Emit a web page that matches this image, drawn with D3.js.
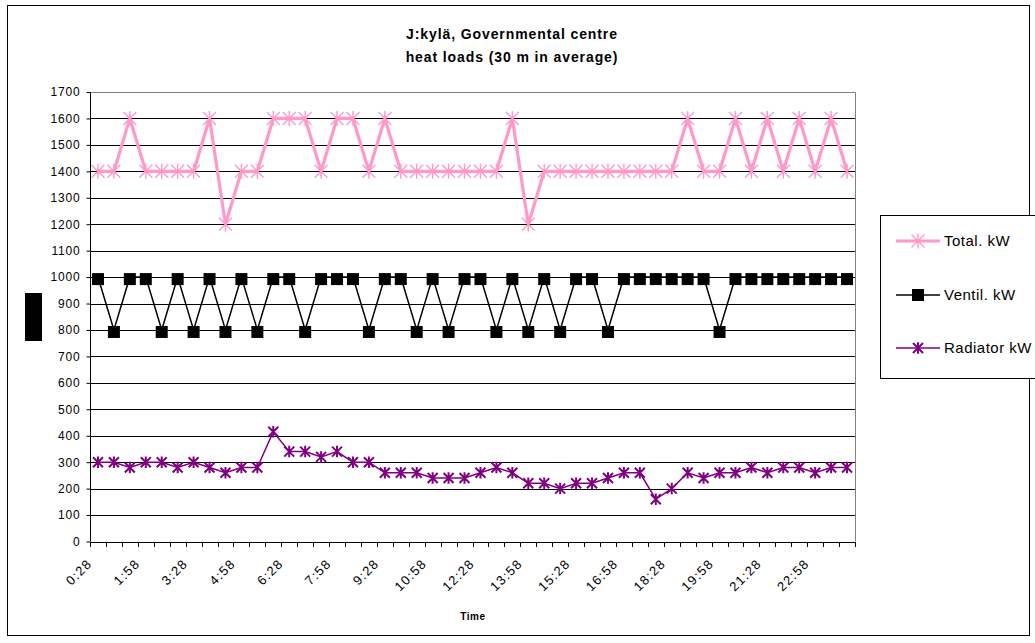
<!DOCTYPE html>
<html>
<head>
<meta charset="utf-8">
<script src="https://cdn.jsdelivr.net/npm/d3@7"></script>
<style>
  html, body { margin: 0; padding: 0; background: #fff; }
  svg { display: block; font-family: "Liberation Sans", Arial, sans-serif; }
</style>
</head>
<body>
<svg id="chart" width="1035" height="643"></svg>
<script>
// Half-hour sample times (30 min averages)
const times = [
  "0:28","0:58","1:28","1:58","2:28","2:58","3:28","3:58","4:28","4:58","5:28","5:58",
  "6:28","6:58","7:28","7:58","8:28","8:58","9:28","9:58","10:28","10:58","11:28","11:58",
  "12:28","12:58","13:28","13:58","14:28","14:58","15:28","15:58","16:28","16:58","17:28","17:58",
  "18:28","18:58","19:28","19:58","20:28","20:58","21:28","21:58","22:28","22:58","23:28","23:58"
];
const tickLabels = ["0:28","1:58","3:28","4:58","6:28","7:58","9:28","10:58",
  "12:28","13:58","15:28","16:58","18:28","19:58","21:28","22:58"];
const yTicks = [0,100,200,300,400,500,600,700,800,900,1000,1100,1200,1300,1400,1500,1600,1700];

const totalKW = [
  1400,1400,1600,1400,1400,1400,1400,1600,1200,1400,1400,1600,
  1600,1600,1400,1600,1600,1400,1600,1400,1400,1400,1400,1400,
  1400,1400,1600,1200,1400,1400,1400,1400,1400,1400,1400,1400,
  1400,1600,1400,1400,1600,1400,1600,1400,1600,1400,1600,1400
];
const ventilKW = [
  1000,800,1000,1000,800,1000,800,1000,800,1000,800,1000,
  1000,800,1000,1000,1000,800,1000,1000,800,1000,800,1000,
  1000,800,1000,800,1000,800,1000,1000,800,1000,1000,1000,
  1000,1000,1000,800,1000,1000,1000,1000,1000,1000,1000,1000
];
const radiatorKW = [
  300,300,280,300,300,280,300,280,260,280,280,415,
  340,340,320,340,300,300,260,260,260,240,240,240,
  260,280,260,220,220,200,220,220,240,260,260,160,
  200,260,240,260,260,280,260,280,280,260,280,280
];
const seriesNames = ["Total. kW", "Ventil. kW", "Radiator kW"];

const svg = d3.select("#chart");

// outer chart frame
svg.append("rect").attr("x", 7.5).attr("y", 5.5).attr("width", 1022).attr("height", 630)
  .attr("fill", "#fff").attr("stroke", "#000").attr("stroke-width", 1);

const plot = { left: 90, right: 855, top: 92, bottom: 541.5 };

const x = d3.scaleBand().domain(times).range([plot.left, plot.right]).padding(0);
const y = d3.scaleLinear().domain([0, 1700]).range([plot.bottom, plot.top]);
const cx = d => x(d) + x.bandwidth() / 2;

// title
const title = svg.append("text").attr("x", 512).attr("text-anchor", "middle")
  .attr("font-weight", "bold").attr("font-size", 14).attr("letter-spacing", 0.9);
title.append("tspan").attr("x", 512).attr("y", 39).text("J:kylä, Governmental centre");
title.append("tspan").attr("x", 512).attr("y", 62).text("heat loads (30 m in average)");

// gridlines
svg.append("g").selectAll("line").data(yTicks.filter(v => v > 0 && v < 1700)).join("line")
  .attr("x1", plot.left).attr("x2", plot.right)
  .attr("y1", d => Math.round(y(d)) + 0.5).attr("y2", d => Math.round(y(d)) + 0.5)
  .attr("stroke", "#000").attr("stroke-width", 1);

// plot area border (top and right)
svg.append("path")
  .attr("d", `M${plot.left},${Math.round(y(1700)) + 0.5}H${plot.right + 0.5}V${plot.bottom}`)
  .attr("fill", "none").attr("stroke", "#808080").attr("stroke-width", 1);

// y axis
const yAxis = svg.append("g").attr("transform", `translate(${plot.left + 0.5},0)`)
  .call(d3.axisLeft(y).tickValues(yTicks).tickSize(4).tickPadding(6).tickFormat(d3.format("d")));
yAxis.select(".domain").attr("stroke", "#000").attr("d", `M0,${plot.top}V${plot.bottom}`);
yAxis.selectAll(".tick line").attr("stroke", "#000");
yAxis.selectAll(".tick text").attr("font-size", 12).attr("fill", "#000")
  .attr("font-family", "'Liberation Sans', Arial, sans-serif").attr("letter-spacing", 0.8);

// x axis: line plus ticks at category boundaries
const xg = svg.append("g");
xg.append("line").attr("x1", plot.left).attr("x2", plot.right + 0.5)
  .attr("y1", Math.round(plot.bottom) + 0.5).attr("y2", Math.round(plot.bottom) + 0.5)
  .attr("stroke", "#000");
const boundaries = times.map(t => x(t)).concat([x(times[times.length - 1]) + x.bandwidth()]);
xg.selectAll("line.tk").data(boundaries).join("line").attr("class", "tk")
  .attr("x1", d => Math.round(d) + 0.5).attr("x2", d => Math.round(d) + 0.5)
  .attr("y1", Math.round(plot.bottom)).attr("y2", Math.round(plot.bottom) + 5)
  .attr("stroke", "#000");
xg.selectAll("text").data(tickLabels).join("text")
  .attr("transform", d => `translate(${cx(d) - 12},${plot.bottom + 16}) rotate(-45)`)
  .attr("text-anchor", "end").attr("dy", "0.75em")
  .attr("font-size", 13).attr("letter-spacing", 1.3).text(d => d);

svg.append("text").attr("x", 473).attr("y", 620).attr("text-anchor", "middle")
  .attr("font-weight", "bold").attr("font-size", 10).attr("letter-spacing", 0.6).text("Time");

// y axis title block
svg.append("rect").attr("x", 25).attr("y", 293).attr("width", 17).attr("height", 48).attr("fill", "#000");

// marker helpers
function starPath(r) {
  return `M${-r},${-r}L${r},${r}M${-r},${r}L${r},${-r}M0,${-r * 1.15}L0,${r * 1.15}`;
}

const line = d3.line().x(d => cx(d.t)).y(d => y(d.v));
const series = [
  { name: seriesNames[0], values: totalKW, color: "#FF99CC", width: 3.2, marker: "star", r: 6.5, mw: 1.4 },
  { name: seriesNames[1], values: ventilKW, color: "#000000", width: 1.5, marker: "square", r: 6, mw: 0 },
  { name: seriesNames[2], values: radiatorKW, color: "#800080", width: 1.5, marker: "star", r: 5, mw: 2 }
];

series.forEach(s => {
  const pts = s.values.map((v, i) => ({ t: times[i], v }));
  const g = svg.append("g");
  g.append("path").datum(pts).attr("d", line).attr("fill", "none")
    .attr("stroke", s.color).attr("stroke-width", s.width).attr("stroke-linejoin", "miter");
  if (s.marker === "star") {
    g.selectAll("path.m").data(pts).join("path").attr("class", "m")
      .attr("transform", d => `translate(${cx(d.t)},${y(d.v)})`)
      .attr("d", starPath(s.r)).attr("fill", "none")
      .attr("stroke", s.color).attr("stroke-width", s.mw);
  } else {
    g.selectAll("rect.m").data(pts).join("rect").attr("class", "m")
      .attr("x", d => cx(d.t) - s.r).attr("y", d => y(d.v) - s.r + 2)
      .attr("width", s.r * 2).attr("height", s.r * 2).attr("fill", s.color);
  }
});

// legend
const lg = svg.append("g");
lg.append("rect").attr("x", 880.5).attr("y", 215.5).attr("width", 160).attr("height", 163)
  .attr("fill", "#fff").attr("stroke", "#000").attr("stroke-width", 1);
const legendY = [241, 295, 348];
series.forEach((s, i) => {
  const yy = legendY[i];
  lg.append("line").attr("x1", 896).attr("x2", 940).attr("y1", yy).attr("y2", yy)
    .attr("stroke", s.color).attr("stroke-width", s.width);
  if (s.marker === "star") {
    lg.append("path").attr("transform", `translate(918,${yy})`).attr("d", starPath(s.r))
      .attr("fill", "none").attr("stroke", s.color).attr("stroke-width", s.mw);
  } else {
    lg.append("rect").attr("x", 918 - s.r).attr("y", yy - s.r).attr("width", s.r * 2)
      .attr("height", s.r * 2).attr("fill", s.color);
  }
  lg.append("text").attr("x", 944).attr("y", yy).attr("dy", "0.35em")
    .attr("font-size", 15).attr("letter-spacing", 0.5).text(s.name);
});
</script>
</body>
</html>
